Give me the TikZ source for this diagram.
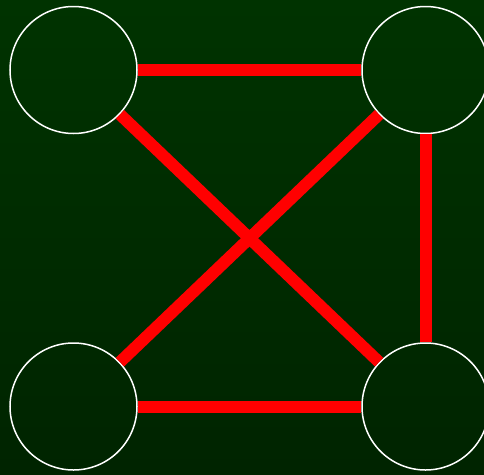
\documentclass[tikz,border=0pt]{standalone}
\begin{document}
\begin{tikzpicture}[x=1pt,y=-1pt,
  vert/.style={circle,draw=white,line width=1.5pt,minimum size=127pt,inner sep=0pt},
  link/.style={draw=red,line width=12pt}]
\shade[top color={rgb,255:red,0;green,51;blue,0},bottom color={rgb,255:red,0;green,36;blue,0}] (0,0) rectangle (484,474);
\useasboundingbox (0,0) rectangle (484,474);
\node[vert] (tl) at (73.5,70) {};
\node[vert] (tr) at (425.5,70) {};
\node[vert] (bl) at (73.5,406.5) {};
\node[vert] (br) at (425.5,406.5) {};
\draw[link] (tl) -- (tr);
\draw[link] (bl) -- (br);
\draw[link] (tr) -- (br);
\draw[link] (tl) -- (br);
\draw[link] (tr) -- (bl);
\end{tikzpicture}
\end{document}
